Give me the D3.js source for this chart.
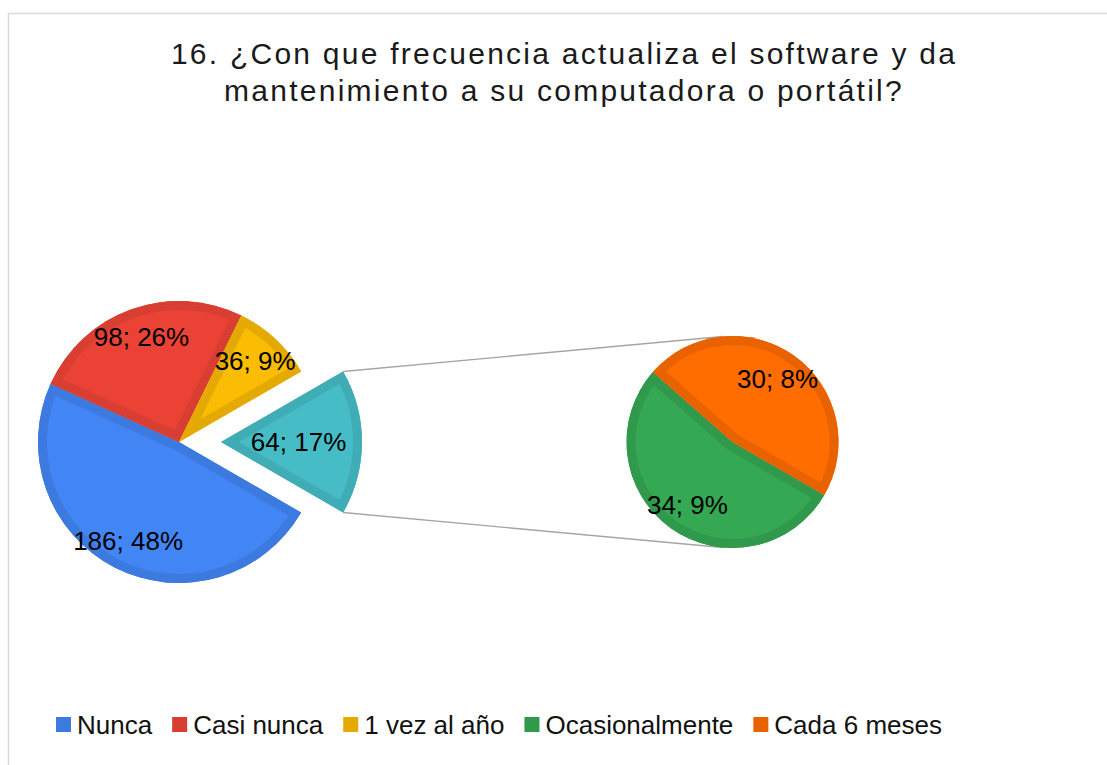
<!DOCTYPE html>
<html>
<head>
<meta charset="utf-8">
<script src="https://cdn.jsdelivr.net/npm/d3@7"></script>
<style>
  body { margin: 0; background: #fff; }
  svg { display: block; font-family: "Liberation Sans", Arial, sans-serif; }
</style>
</head>
<body>
<div id="chart"></div>
<script>
// Chart data
const titleLines = [
  "16. ¿Con que frecuencia actualiza el software y da",
  "mantenimiento a su computadora o portátil?"
];
const categories = ["Nunca", "Casi nunca", "1 vez al año", "Ocasionalmente", "Cada 6 meses"];
const values = [186, 98, 36, 34, 30];
const secondaryCount = 2; // last N categories go to the small pie

// Colours (fill + darker edge)
const fillColors = ["#4285f4", "#ea4335", "#fbbc04", "#34a853", "#ff6d01"];
const edgeColors = ["#3d7ae0", "#d83e31", "#e4aa03", "#30994b", "#e86300"];
const otherFill = "#46bdc6";
const otherEdge = "#40acb5";

const W = 1107, H = 765;
const mainC = { x: 179, y: 442 }, mainR = 141, explode = 42;
const secC = { x: 732.5, y: 442 }, secR = 106;
const edgeWidth = 9;

const svg = d3.select("#chart").append("svg")
  .attr("width", W)
  .attr("height", H);

// chart frame
svg.append("rect")
  .attr("x", 8.5).attr("y", 13.5)
  .attr("width", W).attr("height", H)
  .attr("fill", "none")
  .attr("stroke", "#d9d9d9")
  .attr("stroke-width", 1.5);

// Title
svg.append("text")
  .attr("text-anchor", "middle")
  .style("font-size", "30px")
  .style("letter-spacing", "2.25px")
  .attr("fill", "#1a1a1a")
  .selectAll("tspan")
  .data(titleLines)
  .enter()
  .append("tspan")
  .attr("x", 564)
  .attr("y", (d, i) => 64 + i * 37)
  .text(d => d);

// Split data into main pie and secondary pie
const total = d3.sum(values);
const splitAt = values.length - secondaryCount;
const mainData = categories.slice(0, splitAt).map((c, i) => ({
  name: c, value: values[i], fill: fillColors[i], edge: edgeColors[i]
}));
const otherValue = d3.sum(values.slice(splitAt));
mainData.push({ name: "Otro", value: otherValue, fill: otherFill, edge: otherEdge, other: true });
const secData = categories.slice(splitAt).map((c, i) => ({
  name: c, value: values[splitAt + i], fill: fillColors[splitAt + i], edge: edgeColors[splitAt + i]
}));

// "Other" slice is centred on the 3 o'clock direction
const startAngle = Math.PI / 2 + Math.PI * otherValue / total;
const pie = d3.pie().sort(null).value(d => d.value)
  .startAngle(startAngle).endAngle(startAngle + 2 * Math.PI);

const mainArcs = pie(mainData);
const secArcs = pie(secData);

const pct = v => `${v}; ${Math.round(v / total * 100)}%`;
const polar = (c, r, a) => ({ x: c.x + r * Math.sin(a), y: c.y - r * Math.cos(a) });

// Exploded "other" slice
const otherArc = mainArcs.find(d => d.data.other);
const otherMid = (otherArc.startAngle + otherArc.endAngle) / 2;
const otherC = polar(mainC, explode, otherMid);

// Connector lines (tangents to the secondary pie)
function tangent(p, upper) {
  const dx = p.x - secC.x, dy = p.y - secC.y;
  const d = Math.hypot(dx, dy);
  const phi = Math.atan2(dy, dx);
  const alpha = Math.acos(secR / d);
  const a = upper ? phi + alpha : phi - alpha;
  return { x: secC.x + secR * Math.cos(a), y: secC.y + secR * Math.sin(a) };
}
const topCorner = polar(otherC, mainR, otherArc.startAngle);
const botCorner = polar(otherC, mainR, otherArc.endAngle);
[[topCorner, tangent(topCorner, true)], [botCorner, tangent(botCorner, false)]]
  .forEach(([p, q]) => {
    svg.append("line")
      .attr("x1", p.x).attr("y1", p.y)
      .attr("x2", q.x).attr("y2", q.y)
      .attr("stroke", "#a5a5a5")
      .attr("stroke-width", 1.4);
  });

const defs = svg.append("defs");
let clipId = 0;

function drawPie(arcs, center, r, labelFactor) {
  const arc = d3.arc().innerRadius(0).outerRadius(r);
  const g = svg.append("g");
  arcs.forEach(d => {
    const c = d.data.other ? otherC : center;
    const path = arc(d);
    const id = "clip" + (clipId++);
    // clip path lives in the slice's own (translated) coordinates
    defs.append("clipPath").attr("id", id)
      .append("path")
      .attr("d", path);

    const s = g.append("g")
      .attr("transform", `translate(${c.x},${c.y})`);
    s.append("path")
      .attr("d", path)
      .attr("fill", d.data.fill);
    // darker inner edge
    s.append("path")
      .attr("d", path)
      .attr("fill", "none")
      .attr("stroke", d.data.edge)
      .attr("stroke-width", edgeWidth * 2)
      .attr("stroke-linejoin", "miter")
      .attr("clip-path", `url(#${id})`);
  });

  // data labels
  arcs.forEach(d => {
    const c = d.data.other ? otherC : center;
    const f = d.data.other ? 0.55 : labelFactor;
    const mid = (d.startAngle + d.endAngle) / 2;
    const p = polar(c, r * f, mid);
    svg.append("text")
      .attr("x", p.x)
      .attr("y", p.y)
      .attr("dy", "0.35em")
      .attr("text-anchor", "middle")
      .style("font-size", "26px")
      .attr("fill", "#000")
      .text(pct(d.data.value));
  });
}

drawPie(mainArcs, mainC, mainR, 0.79);
drawPie(secArcs, secC, secR, 0.73);

// Legend
const legend = svg.append("g").attr("class", "legend");
let lx = 56;
categories.forEach((c, i) => {
  legend.append("rect")
    .attr("x", lx).attr("y", 717)
    .attr("width", 15).attr("height", 15)
    .attr("fill", edgeColors[i]);
  const t = legend.append("text")
    .attr("x", lx + 21)
    .attr("y", 734)
    .style("font-size", "26px")
    .attr("fill", "#111")
    .text(c);
  lx += 21 + t.node().getComputedTextLength() + 20;
});
</script>
</body>
</html>
